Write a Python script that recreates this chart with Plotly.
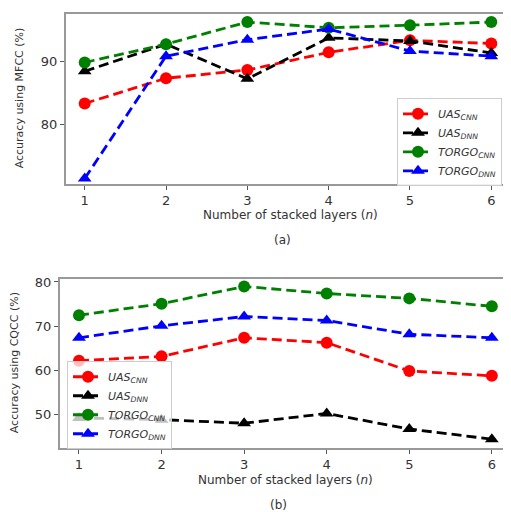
import plotly.graph_objects as go

layers = [1, 2, 3, 4, 5, 6]

# Top panel (a): MFCC
mfcc_uas_cnn = [83.3, 87.3, 88.6, 91.4, 93.3, 92.8]
mfcc_uas_dnn = [88.4, 92.7, 87.2, 93.7, 93.2, 91.3]
mfcc_torgo_cnn = [89.8, 92.7, 96.2, 95.3, 95.7, 96.2]
mfcc_torgo_dnn = [71.4, 90.8, 93.4, 95.1, 91.6, 90.8]

# Bottom panel (b): CQCC
cqcc_uas_cnn = [62.2, 63.2, 67.4, 66.3, 59.9, 58.8]
cqcc_uas_dnn = [49.3, 48.9, 48.1, 50.3, 46.8, 44.5]
cqcc_torgo_cnn = [72.5, 75.1, 79.0, 77.4, 76.3, 74.5]
cqcc_torgo_dnn = [67.4, 70.1, 72.2, 71.3, 68.2, 67.4]

names = ["<i>UAS<sub>CNN</sub></i>", "<i>UAS<sub>DNN</sub></i>",
         "<i>TORGO<sub>CNN</sub></i>", "<i>TORGO<sub>DNN</sub></i>"]
colors = ["#ff0000", "#000000", "#008000", "#0000ff"]
symbols = ["circle", "triangle-up", "circle", "triangle-up"]

W, H = 511, 512
OX, OY = 8, 8  # page offset of the figure


def px(x):
    return (x - OX) / W


def py(y):
    return 1 - (y - OY) / H


fig = go.Figure()

top_series = [mfcc_uas_cnn, mfcc_uas_dnn, mfcc_torgo_cnn, mfcc_torgo_dnn]
bot_series = [cqcc_uas_cnn, cqcc_uas_dnn, cqcc_torgo_cnn, cqcc_torgo_dnn]

for i, ys in enumerate(top_series):
    fig.add_trace(go.Scatter(
        x=layers, y=ys, mode="lines+markers", name=names[i],
        line=dict(color=colors[i], width=2.8, dash="10px,5px"),
        marker=dict(symbol=symbols[i], size=12, color=colors[i]),
        xaxis="x", yaxis="y", legend="legend", cliponaxis=True))

for i, ys in enumerate(bot_series):
    fig.add_trace(go.Scatter(
        x=layers, y=ys, mode="lines+markers", name=names[i],
        line=dict(color=colors[i], width=2.8, dash="10px,5px"),
        marker=dict(symbol=symbols[i], size=12, color=colors[i]),
        xaxis="x2", yaxis="y2", legend="legend2", cliponaxis=True))

axis_common = dict(showline=True, linecolor="#999999", linewidth=2, mirror=True,
                   showgrid=False, zeroline=False, ticks="outside", ticklen=4,
                   tickcolor="#555", tickfont=dict(size=13, color="#333"))

fig.update_layout(
    width=W, height=H,
    margin=dict(l=0, r=0, t=0, b=0),
    paper_bgcolor="white", plot_bgcolor="white",
    font=dict(family="DejaVu Sans", color="#333"),
    xaxis=dict(domain=[px(66), px(510)], range=[0.77, 6.23], tickvals=layers,
               anchor="y", **axis_common),
    yaxis=dict(domain=[py(181), py(10.5)], range=[70.6, 97.4], tickvals=[80, 90],
               anchor="x", **axis_common),
    xaxis2=dict(domain=[px(60), px(510)], range=[0.77, 6.22], tickvals=layers,
                anchor="y2", **axis_common),
    yaxis2=dict(domain=[py(447), py(277)], range=[42.6, 80.7], tickvals=[50, 60, 70, 80],
                anchor="x2", **axis_common),
    legend=dict(x=px(397), y=py(95), xanchor="left", yanchor="top",
                bgcolor="rgba(255,255,255,0.85)", bordercolor="#cccccc", borderwidth=1,
                font=dict(size=11, color="#333"), tracegroupgap=0, itemwidth=30),
    legend2=dict(x=px(67), y=py(360), xanchor="left", yanchor="top",
                 bgcolor="rgba(255,255,255,0.75)", bordercolor="#cccccc", borderwidth=1,
                 font=dict(size=11, color="#333"), tracegroupgap=0, itemwidth=30),
    showlegend=True,
)

ann = dict(xref="paper", yref="paper", showarrow=False, xanchor="center", yanchor="middle",
           font=dict(size=12, color="#333"))
fig.add_annotation(x=px(290), y=py(213), text="Number of stacked layers (<i>n</i>)", **ann)
fig.add_annotation(x=px(285), y=py(480), text="Number of stacked layers (<i>n</i>)", **ann)
fig.add_annotation(x=px(282), y=py(238), text="(a)", **ann)
fig.add_annotation(x=px(278), y=py(505), text="(b)", **ann)
lab = dict(xref="paper", yref="paper", showarrow=False, xanchor="center", yanchor="middle",
           textangle=-90, font=dict(size=11, color="#333"))
fig.add_annotation(x=px(19), y=py(95), text="Accuracy using MFCC (%)", **lab)
fig.add_annotation(x=px(14), y=py(362), text="Accuracy using CQCC (%)", **lab)

fig.write_html("out.html")
